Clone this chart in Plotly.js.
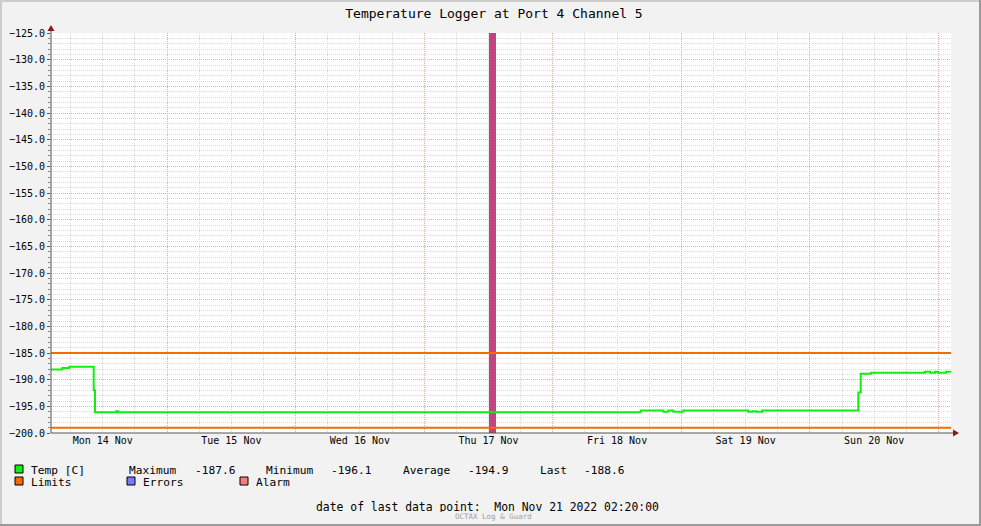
<!DOCTYPE html>
<html><head><meta charset="utf-8">
<script src="https://cdn.plot.ly/plotly-3.0.1.min.js"></script>
<style>html,body{margin:0;padding:0;background:#F2F2F2;overflow:hidden}#chart{width:981px;height:526px}</style>
</head><body><div id="chart"></div>
<script>
// ---- data ----
const tempTimes = [
  '2022-11-14 02:20','2022-11-14 04:27','2022-11-14 05:45','2022-11-14 10:18','2022-11-14 10:33',
  '2022-11-14 14:28','2022-11-14 14:50','2022-11-18 16:25','2022-11-18 20:38','2022-11-18 21:34',
  '2022-11-18 22:30','2022-11-19 00:22','2022-11-19 12:30','2022-11-19 13:22','2022-11-19 13:56',
  '2022-11-19 15:03','2022-11-20 09:02','2022-11-20 09:29','2022-11-20 11:21','2022-11-20 21:29',
  '2022-11-20 22:25','2022-11-20 23:21','2022-11-20 23:54','2022-11-21 01:24','2022-11-21 02:20'
];
const tempValues = [
  -188.1,-187.8,-187.6,-192.0,-196.1,
  -195.9,-196.1,-195.8,-196.0,-195.8,
  -196.0,-195.8,-196.0,-195.9,-196.0,
  -195.8,-192.4,-188.9,-188.7,-188.5,
  -188.7,-188.5,-188.7,-188.5,-188.6
];
const limitTimes = ['2022-11-14 02:20','2022-11-21 02:20'];
const limitUpper = [-185,-185];
const limitLower = [-199,-199];
const alarmTimes = ['2022-11-17 12:45'];
const alarmTop = [-125];
const alarmBottom = [-200];
const alarmWidthMinutes = [78];
const statsLabels = ['Maximum','Minimum','Average','Last'];
const statsValues = ['-187.6','-196.1','-194.9','-188.6'];
const legendNames = ['Temp [C]','Limits','Errors','Alarm'];
const legendColors = ['#11EE11','#F26D00','#7B7BFF','#FF7B7B'];
const titleText = 'Temperature Logger at Port 4 Channel 5';
const lastPointText = 'date of last data point:  Mon Nov 21 2022 02:20:00';
const footerText = 'OCTAX Log & Guard';

// ---- geometry helpers (pixel -> paper) ----
const L = 51, T = 33, PW = 900, PH = 400;
const px = x => (x - L) / PW;
const py = y => (T + PH - y) / PH;
const FONT = 'DejaVu Sans Mono, monospace';
const legFont = {family: FONT, size: 11.2, color: '#000'};

const traces = [
  {x: limitTimes, y: limitUpper, type: 'scatter', mode: 'lines', line: {color: '#F26D00', width: 2}, hoverinfo: 'skip'},
  {x: limitTimes, y: limitLower, type: 'scatter', mode: 'lines', line: {color: '#F26D00', width: 2}, hoverinfo: 'skip'},
  {x: tempTimes, y: tempValues, type: 'scatter', mode: 'lines', line: {color: '#11EE11', width: 2, shape: 'hv'}},
  {x: alarmTimes, y: alarmTop.map((t, i) => t - alarmBottom[i]), base: alarmBottom, type: 'bar',
   width: alarmWidthMinutes.map(m => m * 60000), marker: {color: '#C0387A', line: {width: 0}}, opacity: 0.95}
];

const shapes = [];
const annotations = [];
// frame
shapes.push({type:'line', xref:'paper', yref:'paper', x0:px(0), x1:px(981), y0:py(1), y1:py(1), line:{color:'#CCCCCC', width:2}});
shapes.push({type:'line', xref:'paper', yref:'paper', x0:px(1), x1:px(1), y0:py(0), y1:py(526), line:{color:'#CCCCCC', width:2}});
shapes.push({type:'line', xref:'paper', yref:'paper', x0:px(980), x1:px(980), y0:py(0), y1:py(526), line:{color:'#9A9A9A', width:2}});
shapes.push({type:'line', xref:'paper', yref:'paper', x0:px(0), x1:px(981), y0:py(525), y1:py(525), line:{color:'#9A9A9A', width:2}});
// axis extensions + arrows
shapes.push({type:'line', xref:'paper', yref:'paper', x0:px(51), x1:px(51), y0:py(433), y1:py(29), line:{color:'#555555', width:1}});
shapes.push({type:'line', xref:'paper', yref:'paper', x0:px(51), x1:px(954), y0:py(433), y1:py(433), line:{color:'#555555', width:1}});
shapes.push({type:'path', xref:'paper', yref:'paper',
  path:`M ${px(51)} ${py(25)} L ${px(47.5)} ${py(31)} L ${px(54.5)} ${py(31)} Z`, fillcolor:'#8B1A1A', line:{width:0}});
shapes.push({type:'path', xref:'paper', yref:'paper',
  path:`M ${px(959)} ${py(433)} L ${px(953)} ${py(429.5)} L ${px(953)} ${py(436.5)} Z`, fillcolor:'#8B1A1A', line:{width:0}});

function addText(x, y, text, font, anchor) {
  annotations.push({xref:'paper', yref:'paper', x:px(x), y:py(y), xanchor:anchor || 'left', yanchor:'middle',
    text:text, showarrow:false, font:font, borderpad:0, height:11});
}

// legend boxes
const boxPos = [[15,465],[15,477],[127,477],[240,477]];
const textPos = [[30,470],[30,482],[142,482],[255,482]];
legendNames.forEach((n, i) => {
  const [bx, by] = boxPos[i];
  shapes.push({type:'rect', xref:'paper', yref:'paper', x0:px(bx), x1:px(bx+8), y0:py(by), y1:py(by+8),
    fillcolor: legendColors[i], line:{color:'#000000', width:1}});
  addText(textPos[i][0], textPos[i][1], n, legFont);
});
const statLabelX = [128, 265, 402, 539];
const statValueX = [194, 330, 467, 583];
statsLabels.forEach((s, i) => {
  addText(statLabelX[i], 470, s, legFont);
  addText(statValueX[i], 470, statsValues[i], legFont);
});
addText(315, 506, lastPointText, {family: FONT, size: 11.4, color: '#000'});
addText(493, 516, footerText, {family: FONT, size: 7.5, color: '#A0A0A0'}, 'center');

const layout = {
  width: 981, height: 526,
  margin: {l: 51, r: 30, t: 33, b: 93, pad: 0},
  paper_bgcolor: '#F2F2F2', plot_bgcolor: '#FFFFFF',
  showlegend: false,
  title: {text: titleText, xref:'container', yref:'container', x: 494/981, y: 1 - 13/526,
    xanchor:'center', yanchor:'middle', font: {family: FONT, size: 13, color: '#000'}},
  xaxis: {
    type: 'date', range: ['2022-11-14 02:20', '2022-11-21 02:20'],
    tick0: '2022-11-14', dtick: 86400000, ticklabelmode: 'period', tickformat: '%a %d %b',
    showgrid: true, gridcolor: '#E8A8A8', griddash: '1px,1px', gridwidth: 1,
    minor: {tick0: '2022-11-14', dtick: 21600000, showgrid: true, gridcolor: '#D8D8D8', griddash: '1px,1px', ticks: ''},
    showline: false, zeroline: false, ticks: '',
    tickfont: {family: FONT, size: 10, color: '#000'}, fixedrange: true
  },
  yaxis: {
    range: [-200, -125], dtick: 5, tick0: -200, tickformat: '.1f',
    showgrid: true, gridcolor: '#E8A8A8', griddash: '1px,1px', gridwidth: 1,
    minor: {dtick: 1, showgrid: true, gridcolor: '#DADADA', griddash: '1px,1px', ticks: 'outside', ticklen: 2, tickcolor: '#888'},
    showline: false, zeroline: false, ticks: 'outside', ticklen: 3, tickcolor: '#555',
    tickfont: {family: FONT, size: 10, color: '#000'}, fixedrange: true
  },
  shapes: shapes,
  annotations: annotations,
  bargap: 0
};

Plotly.newPlot('chart', traces, layout, {displayModeBar: false, staticPlot: true});
</script>
</body></html>
